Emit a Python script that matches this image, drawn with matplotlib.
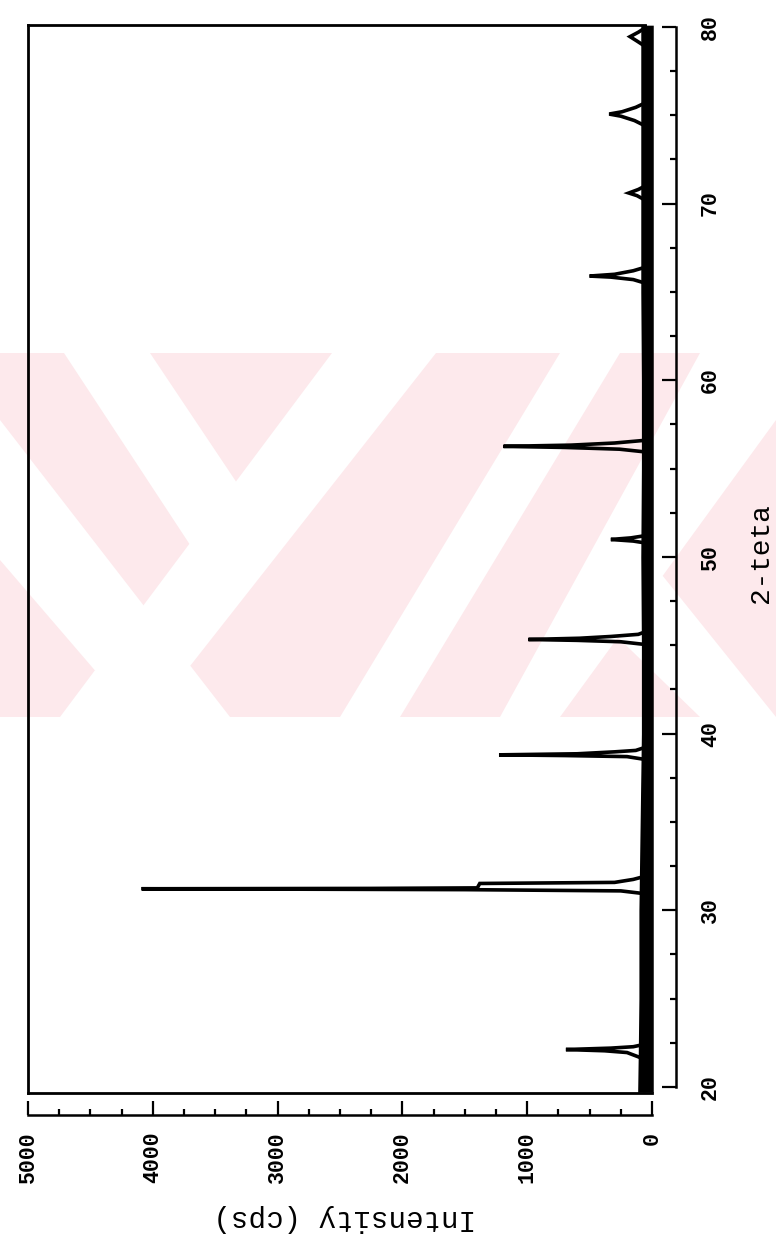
import matplotlib.pyplot as plt
from matplotlib.patches import Polygon, Rectangle

W, H = 776, 1244

# 2-theta / intensity trace (peaks)
two_theta = [19.8, 21.6, 21.95, 22.05, 22.12, 22.2, 22.28, 22.4,
             30.95, 31.1, 31.17, 31.22, 31.24, 31.27, 31.52, 31.58, 31.75, 31.9,
             38.55, 38.7, 38.76, 38.8, 38.86, 38.97, 39.05, 39.2,
             45.05, 45.2, 45.28, 45.33, 45.4, 45.5, 45.62, 45.75,
             50.8, 50.9, 50.99, 51.08, 51.2,
             55.95, 56.1, 56.2, 56.26, 56.33, 56.45, 56.6,
             65.5, 65.7, 65.84, 65.9, 66.0, 66.2, 66.4,
             70.2, 70.45, 70.6, 70.8, 71.0,
             74.4, 74.7, 74.95, 75.07, 75.2, 75.45, 75.7,
             78.9, 79.2, 79.45, 79.7, 79.95, 80.05]
counts = [60, 70, 200, 380, 690, 330, 150, 70,
          70, 250, 1500, 4090, 2250, 1400, 1380, 300, 150, 70,
          65, 200, 700, 1226, 600, 300, 130, 65,
          60, 250, 600, 990, 580, 330, 110, 60,
          60, 150, 330, 170, 60,
          60, 260, 700, 1190, 650, 300, 60,
          55, 150, 330, 500, 300, 150, 55,
          55, 120, 186, 110, 55,
          55, 140, 250, 343, 240, 130, 55,
          55, 120, 176, 110, 55, 55]

# noisy background band (lower / upper edge)
band_tt = [19.7, 22, 25, 30, 35, 40, 45, 50, 55, 60, 65, 70, 75, 80.1]
band_lo = [-10, -10, -10, -10, -10, -10, -10, -10, -10, -10, -10, -10, -10, -10]
band_hi = [115, 110, 105, 105, 95, 85, 85, 90, 85, 85, 90, 90, 90, 90]

int_major = [0, 1000, 2000, 3000, 4000, 5000]
int_labels = ['0', '1000', '2000', '3000', '4000', '5000']
tt_major = [20, 30, 40, 50, 60, 70, 80]


def fx(px):
    return px / W


def fy(py):
    return 1 - py / H


fig = plt.figure(figsize=(W / 100, H / 100), dpi=100)
fig.patch.set_facecolor('white')

# background watermark
pink = '#fde9ec'
fig.add_artist(Rectangle((0, fy(717)), 1, fy(353) - fy(717), transform=fig.transFigure,
                         facecolor=pink, edgecolor='none', zorder=-2))
white_bands = [
    [(64, 353), (150, 353), (245, 495), (200, 560)],
    [(332, 353), (436, 353), (150, 717), (60, 717)],
    [(0, 420), (0, 560), (135, 717), (230, 717)],
    [(560, 353), (620, 353), (400, 717), (340, 717)],
    [(700, 353), (776, 353), (776, 420), (560, 717), (500, 717)],
    [(600, 620), (650, 560), (776, 717), (700, 717)],
]
for pts in white_bands:
    fig.add_artist(Polygon([(fx(a), fy(b)) for a, b in pts], closed=True,
                           transform=fig.transFigure, facecolor='white',
                           edgecolor='none', zorder=-1))

ax = fig.add_axes([fx(28), fy(1093), fx(657) - fx(28), fy(25) - fy(1093)])
ax.set_facecolor('none')

ax.fill_betweenx(band_tt, band_lo, band_hi, color='black', lw=0)
ax.plot(counts, two_theta, color='black', lw=2.6, solid_joinstyle='miter')

ax.set_xlim(5000, -40)
ax.set_ylim(19.66, 80.11)

for s in ['left', 'top']:
    ax.spines[s].set_linewidth(2)
ax.spines['top'].set_bounds(5000, 60)
ax.spines['right'].set_position(('outward', 14))
ax.spines['right'].set_bounds(20, 80)
ax.spines['right'].set_linewidth(1.8)
ax.spines['bottom'].set_position(('outward', 16))
ax.spines['bottom'].set_bounds(0, 5000)
ax.spines['bottom'].set_linewidth(1.8)
# bottom frame line of the plot box
ax.plot([5000, 0], [19.66, 19.66], color='black', lw=2, clip_on=False)

ax.yaxis.tick_right()
ax.set_xticks(int_major)
ax.set_xticklabels(int_labels)
ax.set_xticks([v + 250 * k for v in int_major[:-1] for k in (1, 2, 3)], minor=True)
ax.set_yticks(tt_major)
ax.set_yticks([t + 2.5 * k for t in tt_major[:-1] for k in (1, 2, 3)], minor=True)

tick_font = dict(family='Liberation Mono', weight='bold', size=15.5)
ax.tick_params(which='major', direction='in', length=10, width=1.6)
ax.tick_params(which='minor', direction='in', length=4, width=1.6)
ax.tick_params(axis='x', which='major', pad=12)
ax.tick_params(axis='y', which='major', pad=17)
for lab in ax.get_xticklabels():
    lab.set_rotation(90)
    lab.set_fontproperties(tick_font)
    lab.set_ha('center')
    lab.set_va('top')
for lab in ax.get_yticklabels():
    lab.set_rotation(90)
    lab.set_fontproperties(tick_font)
    lab.set_ha('left')
    lab.set_va('center')

fig.text(fx(345), fy(1218), 'Intensity (cps)', rotation=180, ha='center', va='center',
         family='Liberation Mono', size=21)
fig.text(fx(761), fy(553), '2-teta', rotation=90, ha='center', va='center',
         family='Liberation Mono', size=20)

fig.savefig('out.png', dpi=100)
